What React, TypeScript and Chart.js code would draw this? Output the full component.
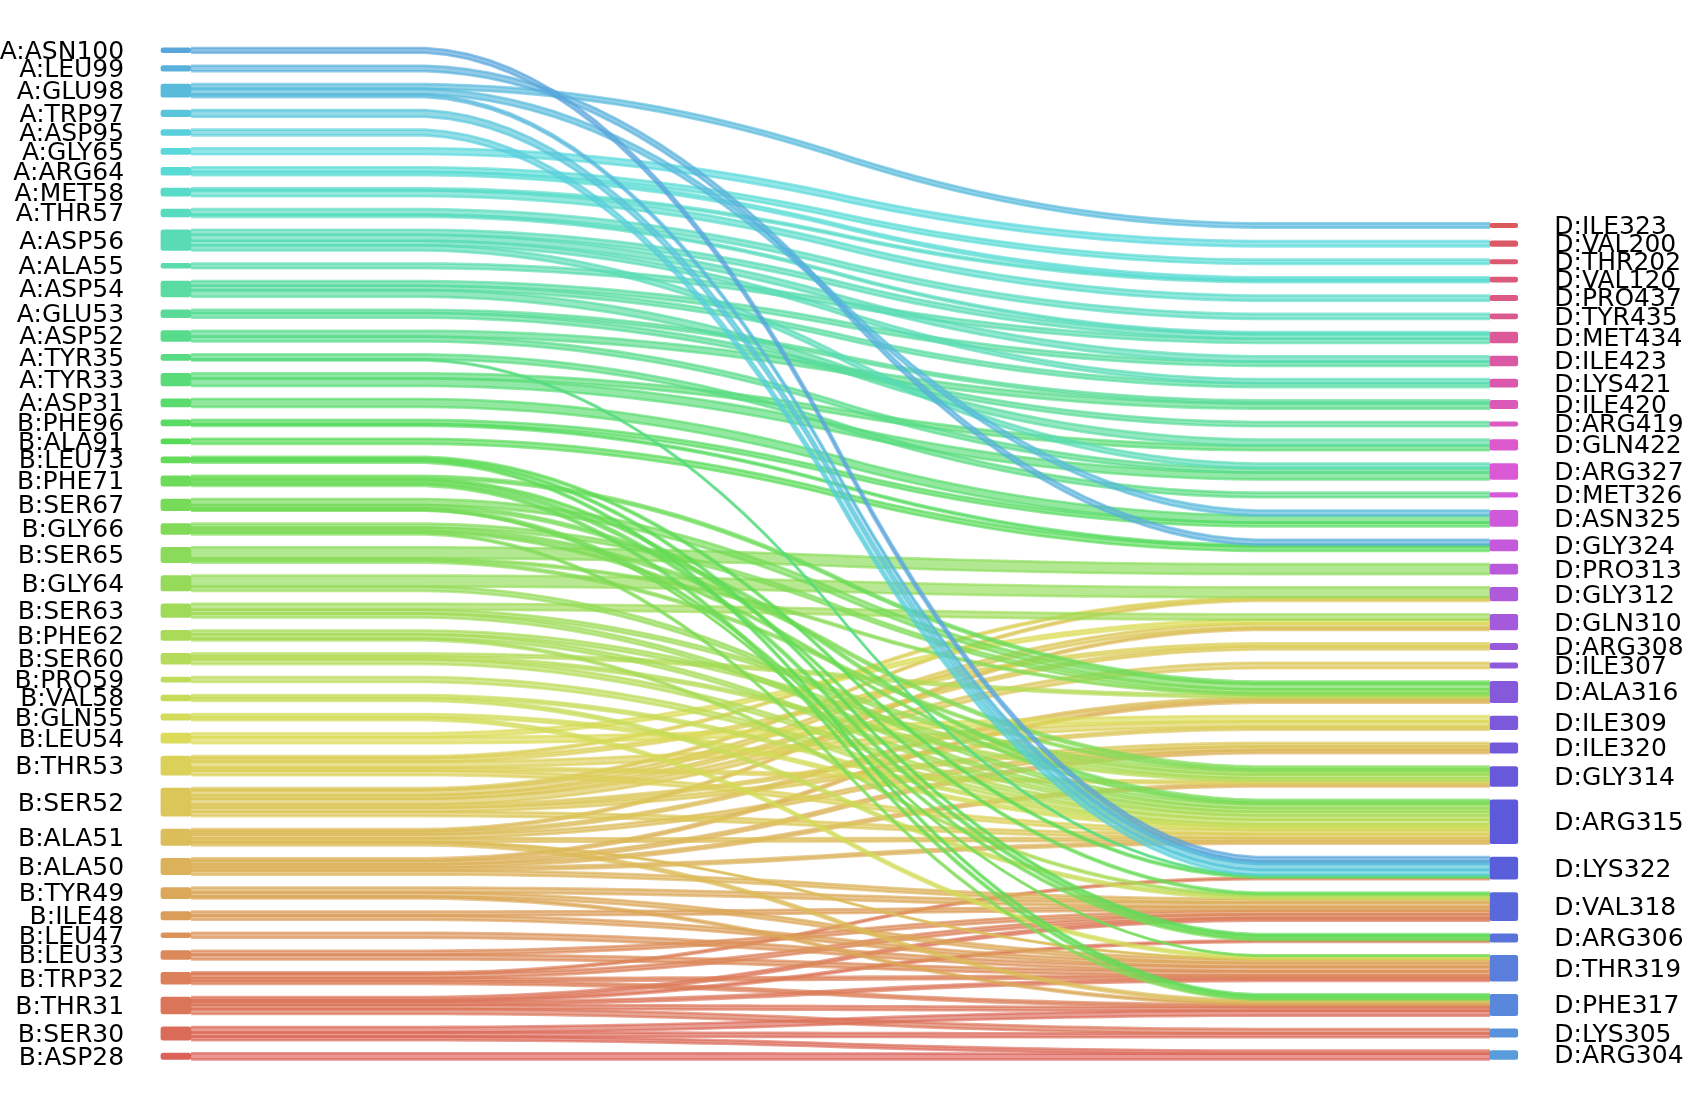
import React, { useEffect, useRef } from "react";
import { Chart, registerables } from "chart.js";

Chart.register(...registerables);

// Node lists, top to bottom as displayed
const LEFT_NODES = [
  "A:ASN100", "A:LEU99", "A:GLU98", "A:TRP97", "A:ASP95", "A:GLY65", "A:ARG64", "A:MET58",
  "A:THR57", "A:ASP56", "A:ALA55", "A:ASP54", "A:GLU53", "A:ASP52", "A:TYR35", "A:TYR33",
  "A:ASP31", "B:PHE96", "B:ALA91", "B:LEU73", "B:PHE71", "B:SER67", "B:GLY66", "B:SER65",
  "B:GLY64", "B:SER63", "B:PHE62", "B:SER60", "B:PRO59", "B:VAL58", "B:GLN55", "B:LEU54",
  "B:THR53", "B:SER52", "B:ALA51", "B:ALA50", "B:TYR49", "B:ILE48", "B:LEU47", "B:LEU33",
  "B:TRP32", "B:THR31", "B:SER30", "B:ASP28",
];
const RIGHT_NODES = [
  "D:ILE323", "D:VAL200", "D:THR202", "D:VAL120", "D:PRO437", "D:TYR435", "D:MET434", "D:ILE423",
  "D:LYS421", "D:ILE420", "D:ARG419", "D:GLN422", "D:ARG327", "D:MET326", "D:ASN325", "D:GLY324",
  "D:PRO313", "D:GLY312", "D:GLN310", "D:ARG308", "D:ILE307", "D:ALA316", "D:ILE309", "D:ILE320",
  "D:GLY314", "D:ARG315", "D:LYS322", "D:VAL318", "D:ARG306", "D:THR319", "D:PHE317", "D:LYS305",
  "D:ARG304",
];

// Links (source, target, weight)
const LINK_SOURCES = [
  "A:ASN100", "A:LEU99", "A:GLU98", "A:GLU98", "A:GLU98", "A:TRP97", "A:ASP95", "A:GLY65",
  "A:ARG64", "A:ARG64", "A:MET58", "A:MET58", "A:THR57", "A:THR57",
  "A:ASP56", "A:ASP56", "A:ASP56", "A:ASP56", "A:ALA55", "A:ASP54", "A:ASP54", "A:ASP54",
  "A:GLU53", "A:GLU53", "A:ASP52", "A:ASP52", "A:TYR35", "A:TYR35", "A:TYR33", "A:TYR33",
  "A:ASP31", "B:PHE96", "B:PHE96", "B:ALA91", "B:LEU73", "B:LEU73", "B:LEU73",
  "B:PHE71", "B:PHE71", "B:PHE71", "B:PHE71", "B:SER67", "B:SER67", "B:SER67", "B:SER67",
  "B:GLY66", "B:GLY66", "B:GLY66", "B:GLY66", "B:SER65", "B:SER65", "B:SER65",
  "B:GLY64", "B:GLY64", "B:SER63", "B:SER63", "B:SER63", "B:PHE62", "B:PHE62", "B:PHE62",
  "B:SER60", "B:SER60", "B:SER60", "B:PRO59", "B:VAL58", "B:VAL58", "B:GLN55", "B:GLN55",
  "B:LEU54", "B:LEU54", "B:THR53", "B:THR53", "B:THR53", "B:THR53", "B:THR53",
  "B:SER52", "B:SER52", "B:SER52", "B:SER52", "B:SER52", "B:SER52", "B:SER52",
  "B:ALA51", "B:ALA51", "B:ALA51", "B:ALA51", "B:ALA51", "B:ALA51",
  "B:ALA50", "B:ALA50", "B:ALA50", "B:ALA50", "B:ALA50",
  "B:TYR49", "B:TYR49", "B:TYR49", "B:ILE48", "B:ILE48", "B:LEU47", "B:LEU33", "B:LEU33",
  "B:TRP32", "B:TRP32", "B:TRP32", "B:TRP32", "B:THR31", "B:THR31", "B:THR31", "B:THR31", "B:THR31",
  "B:SER30", "B:SER30", "B:SER30", "B:ASP28",
];
const LINK_TARGETS = [
  "D:LYS322", "D:GLY324", "D:ILE323", "D:ASN325", "D:LYS322", "D:LYS322", "D:LYS322", "D:VAL200",
  "D:THR202", "D:VAL120", "D:VAL120", "D:PRO437", "D:TYR435", "D:MET434",
  "D:MET434", "D:ILE423", "D:LYS421", "D:ARG327", "D:MET434", "D:ILE423", "D:LYS421", "D:GLN422",
  "D:ILE420", "D:ARG419", "D:ILE420", "D:ARG327", "D:MET326", "D:LYS322", "D:GLN422", "D:ARG327",
  "D:ASN325", "D:ASN325", "D:GLY324", "D:GLY324", "D:LYS322", "D:ARG306", "D:PHE317",
  "D:ALA316", "D:VAL318", "D:ARG306", "D:PHE317", "D:ALA316", "D:ARG315", "D:THR319", "D:ARG306",
  "D:ALA316", "D:GLY314", "D:ARG315", "D:PHE317", "D:PRO313", "D:ALA316", "D:GLY314",
  "D:GLY312", "D:ARG315", "D:GLN310", "D:GLY314", "D:ARG315", "D:GLY314", "D:ARG315", "D:VAL318",
  "D:ALA316", "D:GLY314", "D:ARG315", "D:ARG315", "D:ARG315", "D:VAL318", "D:ARG315", "D:THR319",
  "D:GLN310", "D:ILE309", "D:GLY312", "D:ARG308", "D:ILE309", "D:GLY314", "D:ARG315",
  "D:GLY312", "D:GLN310", "D:ARG308", "D:ILE307", "D:ILE309", "D:ILE320", "D:ARG315",
  "D:GLN310", "D:ALA316", "D:ILE320", "D:ARG315", "D:THR319", "D:PHE317",
  "D:ALA316", "D:ILE320", "D:GLY314", "D:ARG315", "D:VAL318",
  "D:VAL318", "D:THR319", "D:PHE317", "D:VAL318", "D:THR319", "D:THR319", "D:VAL318", "D:THR319",
  "D:LYS322", "D:VAL318", "D:THR319", "D:PHE317", "D:VAL318", "D:ARG306", "D:THR319", "D:PHE317", "D:LYS305",
  "D:PHE317", "D:LYS305", "D:ARG304", "D:ARG304",
];
const LINK_WEIGHTS = [
  4.8, 5.5, 4.75, 5.5, 2.75, 6.6, 5.7, 6,
  4.75, 3.25, 2.25, 5.75, 5.5, 2.2,
  5, 6, 4.5, 5.2, 4.7, 4.7, 4.3, 6.7,
  3.25, 4.75, 5.9, 4.8, 5, 1, 5.1, 7.6,
  8, 4.2, 1.8, 5, 2, 2, 2,
  2.8, 2, 3, 2.5, 6, 3, 0.7, 2,
  4, 3, 2, 1.7, 11, 2, 2.3,
  11, 4.3, 6, 3.7, 4, 4, 4, 2,
  3, 3, 4.7, 5, 3, 3, 3.3, 3,
  4, 6, 2, 3.5, 6, 3, 4.5,
  2.1, 5, 3.5, 5.9, 3.1, 4, 4.4,
  2.3, 3, 4, 3.4, 0.7, 2.9,
  2.7, 3.4, 3.1, 3, 4.1,
  5, 4, 2, 4, 4.3, 5, 4, 4.7,
  1.7, 4, 3, 3, 3, 2, 3, 4, 5,
  5.5, 4.2, 3.6, 6.3,
];

// Layout constants
const RIGHT_SCALE = 0.905;
const GAP_LEFT = 12.95;
const GAP_RIGHT = 13.27;
const X_MIN = -191 / 1299;
const X_MAX = (1684 - 191) / 1299;
const Y_MIN = -48.5;
const Y_MAX = 1059.5;
const LEFT_BAR_X = -0.0116;
const RIGHT_BAR_X = 1.0106;
const LABEL_X_LEFT = -0.0515;
const LABEL_X_RIGHT = 1.0495;
const FONT_SIZE = 25;

function hlsToRgb(h: number, l: number, s: number): number[] {
  const m2 = l <= 0.5 ? l * (1 + s) : l + s - l * s;
  const m1 = 2 * l - m2;
  const v = (hh: number) => {
    hh = ((hh % 1) + 1) % 1;
    if (hh < 1 / 6) return m1 + (m2 - m1) * hh * 6;
    if (hh < 0.5) return m2;
    if (hh < 2 / 3) return m1 + (m2 - m1) * (2 / 3 - hh) * 6;
    return m1;
  };
  return [v(h + 1 / 3), v(h), v(h - 1 / 3)].map((c) => Math.round(c * 255));
}

function smooth(a: number, b: number): number[] {
  let arr: number[] = [];
  for (let i = 0; i < 50; i++) arr.push(a);
  for (let i = 0; i < 50; i++) arr.push(b);
  for (let pass = 0; pass < 2; pass++) {
    const out: number[] = [];
    for (let k = 0; k + 20 <= arr.length; k++) {
      let s = 0;
      for (let j = 0; j < 20; j++) s += arr[k + j];
      out.push(s * 0.05);
    }
    arr = out;
  }
  return arr;
}

export default function App() {
  const ref = useRef<HTMLCanvasElement>(null);

  useEffect(() => {
    const canvas = ref.current;
    if (!canvas) return;
    const L = LEFT_NODES.length;
    const R = RIGHT_NODES.length;
    const nColors = L + R;
    const colorOf = (idx: number) => hlsToRgb(idx / nColors + 0.01, 0.6, 0.65);
    const leftColor = LEFT_NODES.map((_, i) => colorOf(L - 1 - i));
    const rightColor = RIGHT_NODES.map((_, j) => colorOf(L + (R - 1 - j)));
    const rgba = (c: number[], a: number) => `rgba(${c[0]},${c[1]},${c[2]},${a})`;

    const srcIdx = LINK_SOURCES.map((s) => LEFT_NODES.indexOf(s));
    const tgtIdx = LINK_TARGETS.map((t) => RIGHT_NODES.indexOf(t));

    const leftTot = LEFT_NODES.map((_, i) =>
      LINK_WEIGHTS.reduce((acc, w, k) => (srcIdx[k] === i ? acc + w : acc), 0)
    );
    const rightTot = RIGHT_NODES.map((_, j) =>
      RIGHT_SCALE * LINK_WEIGHTS.reduce((acc, w, k) => (tgtIdx[k] === j ? acc + w : acc), 0)
    );

    const leftBottom: number[] = new Array(L).fill(0);
    let cur = 0;
    for (let i = L - 1; i >= 0; i--) {
      leftBottom[i] = cur;
      cur += leftTot[i] + GAP_LEFT;
    }
    const rightBottom: number[] = new Array(R).fill(0);
    cur = 0;
    for (let j = R - 1; j >= 0; j--) {
      rightBottom[j] = cur;
      cur += rightTot[j] + GAP_RIGHT;
    }

    const lCur = leftBottom.slice();
    const rCur = rightBottom.slice();
    const strips: { i: number; yd: number[]; yu: number[] }[] = [];
    for (let i = L - 1; i >= 0; i--) {
      for (let j = R - 1; j >= 0; j--) {
        let wl = 0;
        let found = false;
        for (let k = 0; k < LINK_WEIGHTS.length; k++) {
          if (srcIdx[k] === i && tgtIdx[k] === j) {
            wl += LINK_WEIGHTS[k];
            found = true;
          }
        }
        if (!found) continue;
        const wr = wl * RIGHT_SCALE;
        const yd = smooth(lCur[i], rCur[j]);
        const yu = smooth(lCur[i] + wl, rCur[j] + wr);
        lCur[i] += wl;
        rCur[j] += wr;
        strips.push({ i, yd, yu });
      }
    }

    const datasets: any[] = [];
    for (let s = strips.length - 1; s >= 0; s--) {
      const st = strips[s];
      const n = st.yd.length;
      const col = leftColor[st.i];
      const up = st.yu.map((y, k) => ({ x: k / (n - 1), y }));
      const dn = st.yd.map((y, k) => ({ x: k / (n - 1), y }));
      datasets.push({
        type: "line",
        data: up,
        borderColor: rgba(col, 0.65),
        backgroundColor: rgba(col, 0.65),
        borderWidth: 2.6,
        pointRadius: 0,
        fill: "+1",
        tension: 0,
        order: 1,
      });
      datasets.push({
        type: "line",
        data: dn,
        borderColor: rgba(col, 0.65),
        backgroundColor: rgba(col, 0.65),
        borderWidth: 2.6,
        pointRadius: 0,
        fill: false,
        tension: 0,
        order: 1,
      });
    }

    const nodeData: any[] = [];
    const nodeColors: string[] = [];
    LEFT_NODES.forEach((_, i) => {
      nodeData.push({ x: LEFT_BAR_X, y: [leftBottom[i], leftBottom[i] + leftTot[i]] });
      nodeColors.push(rgba(leftColor[i], 0.99));
    });
    datasets.push({
      type: "bar",
      data: nodeData,
      backgroundColor: nodeColors,
      borderWidth: 0,
      borderRadius: 2.5,
      borderSkipped: false,
      barThickness: 30,
      order: 100,
    });
    const rNodeData: any[] = [];
    const rNodeColors: string[] = [];
    RIGHT_NODES.forEach((_, j) => {
      rNodeData.push({ x: RIGHT_BAR_X, y: [rightBottom[j], rightBottom[j] + rightTot[j]] });
      rNodeColors.push(rgba(rightColor[j], 0.99));
    });
    datasets.push({
      type: "bar",
      data: rNodeData,
      backgroundColor: rNodeColors,
      borderWidth: 0,
      borderRadius: 2.5,
      borderSkipped: false,
      barThickness: 28,
      order: 100,
    });

    const labelPlugin = {
      id: "nodeLabels",
      afterDatasetsDraw(chart: any) {
        const { ctx, scales } = chart;
        const xs = scales.x;
        const ys = scales.y;
        ctx.save();
        ctx.font = `${FONT_SIZE}px "DejaVu Sans"`;
        ctx.fillStyle = "#000000";
        ctx.textBaseline = "alphabetic";
        ctx.textAlign = "right";
        LEFT_NODES.forEach((name, i) => {
          const yc = ys.getPixelForValue(leftBottom[i] + leftTot[i] / 2);
          ctx.fillText(name, xs.getPixelForValue(LABEL_X_LEFT), yc + 0.336 * FONT_SIZE);
        });
        ctx.textAlign = "left";
        RIGHT_NODES.forEach((name, j) => {
          const yc = ys.getPixelForValue(rightBottom[j] + rightTot[j] / 2);
          ctx.fillText(name, xs.getPixelForValue(LABEL_X_RIGHT), yc + 0.336 * FONT_SIZE);
        });
        ctx.restore();
      },
    };

    const chart = new Chart(canvas, {
      type: "line",
      data: { datasets },
      options: {
        responsive: false,
        animation: false,
        devicePixelRatio: 1,
        events: [],
        layout: { padding: 0 },
        datasets: { bar: { grouped: false } },
        plugins: {
          legend: { display: false },
          tooltip: { enabled: false },
          filler: { propagate: false },
        },
        scales: {
          x: { type: "linear", min: X_MIN, max: X_MAX, display: false, offset: false },
          y: { type: "linear", min: Y_MIN, max: Y_MAX, display: false },
        },
      },
      plugins: [labelPlugin],
    } as any);

    return () => chart.destroy();
  }, []);

  return (
    <div style={{ position: "absolute", left: 0, top: 0, width: 1684, height: 1108, background: "#ffffff" }}>
      <canvas ref={ref} width={1684} height={1108} />
    </div>
  );
}
